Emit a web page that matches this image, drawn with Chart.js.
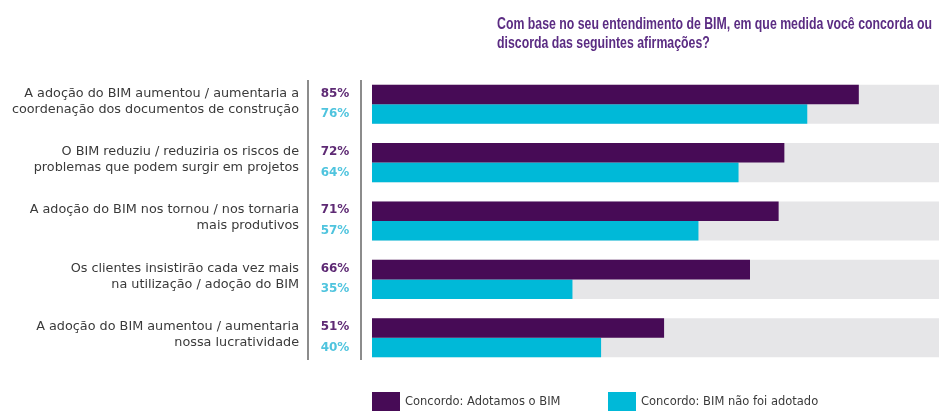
<!DOCTYPE html>
<html>
<head>
<meta charset="utf-8">
<script src="https://cdn.jsdelivr.net/npm/chart.js@4"></script>
<style>
  html, body { margin: 0; padding: 0; background: #fff; }
  #wrap { width: 939px; height: 414px; }
</style>
</head>
<body>
<div id="wrap"><canvas id="chart"></canvas></div>
<script>
// data
const titleLines = ['Com base no seu entendimento de BIM, em que medida você concorda ou', 'discorda das seguintes afirmações?'];
const categories = [
  ['A adoção do BIM aumentou / aumentaria a', 'coordenação dos documentos de construção'],
  ['O BIM reduziu / reduziria os riscos de', 'problemas que podem surgir em projetos'],
  ['A adoção do BIM nos tornou / nos tornaria', 'mais produtivos'],
  ['Os clientes insistirão cada vez mais', 'na utilização / adoção do BIM'],
  ['A adoção do BIM aumentou / aumentaria', 'nossa lucratividade']
];
const adotamos = [85, 72, 71, 66, 51];
const naoAdotado = [76, 64, 57, 35, 40];
const fullScale = [100, 100, 100, 100, 100];
const seriesNames = ['Concordo: Adotamos o BIM', 'Concordo: BIM não foi adotado'];

const colDark = '#470b56';
const colCyan = '#00b9d8';
const colGray = '#e6e6e8';
const labelDark = '#5e2a74';
const labelCyan = '#4fc4de';

// title, separators, percent labels, legend
const extras = {
  id: 'extras',
  afterDatasetsDraw(chart) {
    const ctx = chart.ctx;
    ctx.save();
    // title (squeezed to look like the condensed face of the original)
    ctx.fillStyle = '#5b2c83';
    ctx.font = 'bold 17px "Liberation Sans", sans-serif';
    ctx.textAlign = 'left';
    ctx.textBaseline = 'alphabetic';
    const sx = 435 / ctx.measureText(titleLines[0]).width;
    titleLines.forEach((t, i) => {
      ctx.save();
      ctx.translate(497, 29 + i * 19);
      ctx.scale(sx, 1);
      ctx.fillText(t, 0, 0);
      ctx.restore();
    });

    // vertical separators
    ctx.strokeStyle = '#8c8c8c';
    ctx.lineWidth = 2;
    [308, 361].forEach(x => {
      ctx.beginPath();
      ctx.moveTo(x, 80);
      ctx.lineTo(x, 360);
      ctx.stroke();
    });

    // percent labels
    ctx.font = 'bold 12px "DejaVu Sans", sans-serif';
    ctx.textAlign = 'center';
    ctx.textBaseline = 'middle';
    const m0 = chart.getDatasetMeta(1), m1 = chart.getDatasetMeta(2);
    adotamos.forEach((v, i) => {
      ctx.fillStyle = labelDark;
      ctx.fillText(v + '%', 335, m0.data[i].y - 1);
      ctx.fillStyle = labelCyan;
      ctx.fillText(naoAdotado[i] + '%', 335, m1.data[i].y);
    });

    // legend
    ctx.font = '11.5px "DejaVu Sans", sans-serif';
    ctx.textAlign = 'left';
    [[372, colDark], [608, colCyan]].forEach(([x, c], i) => {
      ctx.fillStyle = c;
      ctx.fillRect(x, 392, 28, 19);
      ctx.fillStyle = '#3a3a3a';
      ctx.fillText(seriesNames[i], x + 33, 402);
    });
    ctx.restore();
  }
};

new Chart(document.getElementById('chart'), {
  type: 'bar',
  data: {
    labels: categories,
    datasets: [
      { label: 'base', data: fullScale, backgroundColor: colGray, grouped: false, order: 3 },
      { label: seriesNames[0], data: adotamos, backgroundColor: colDark, order: 1 },
      { label: seriesNames[1], data: naoAdotado, backgroundColor: colCyan, order: 1 }
    ]
  },
  options: {
    indexAxis: 'y',
    responsive: true,
    maintainAspectRatio: false,
    animation: false,
    datasets: { bar: { barPercentage: 1, categoryPercentage: 0.67 } },
    layout: { padding: { top: 75, bottom: 47, left: 0, right: 0 } },
    plugins: {
      legend: { display: false },
      title: { display: false },
      tooltip: { enabled: false }
    },
    scales: {
      x: { display: false, min: 0, max: 99, grid: { display: false } },
      y: {
        grid: { display: false, drawTicks: false },
        border: { display: false },
        afterFit(scale) {
          scale.width = 372;
          scale.paddingTop = 0;
          scale.paddingBottom = 0;
        },
        ticks: {
          padding: 73,
          labelOffset: -3,
          color: '#3a3a3a',
          font: { family: '"DejaVu Sans", sans-serif', size: 12.8, lineHeight: 1.25 }
        }
      }
    }
  },
  plugins: [extras]
});
</script>
</body>
</html>
